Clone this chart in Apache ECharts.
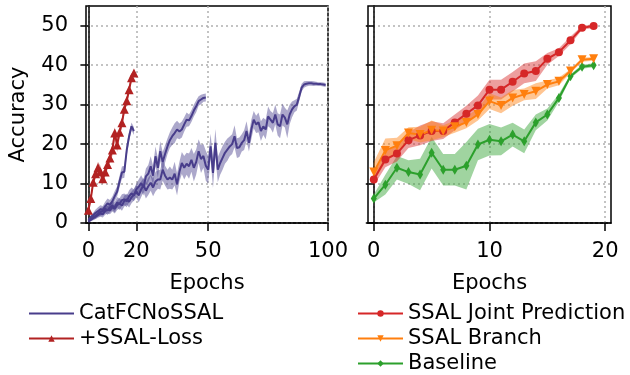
<!DOCTYPE html>
<html>
<head>
<meta charset="utf-8">
<script src="https://cdn.jsdelivr.net/npm/echarts@6/dist/echarts.min.js"></script>
<style>
  html, body { margin: 0; padding: 0; background: #fff; }
  #chart { width: 630px; height: 375px; }
</style>
</head>
<body>
<div id="chart"></div>
<script>
// tick values
const yTicks = [0, 10, 20, 30, 40, 50];
const leftXTicks = [0, 20, 50, 100];
const rightXTicks = [0, 10, 20];

// left panel: CatFCNoSSAL runs (20 / 50 / 100 epochs)
const noSsal20 = [0.8, 1.5, 2.0, 2.6, 3.0, 3.5, 3.3, 4.2, 5.0, 4.6, 5.5, 6.8, 8.0, 10.5, 12.8, 13.0, 18.5, 22.0, 24.5, 23.3];
const noSsal20Std = [0.3, 0.5, 0.6, 0.8, 1, 1, 1, 1.2, 1.2, 1.2, 1.2, 1.3, 1.3, 1.5, 1.5, 1.5, 1.5, 1.2, 1, 1];

const noSsal50 = [
  0.5, 1.0, 1.5, 1.8, 2.4, 2.8, 3.0, 3.6, 3.2, 4.0,
  4.4, 4.0, 5.2, 4.8, 5.8, 6.0, 5.5, 6.8, 7.5, 7.0,
  8.5, 9.2, 10.1, 9.0, 11.8, 12.5, 14.4, 12.0, 16.9, 14.0,
  18.2, 15.5, 17.5, 19.4, 21.0, 22.0, 22.8, 23.7, 23.2, 23.7,
  25.0, 26.2, 26.0, 27.1, 28.5, 29.6, 30.9, 31.3, 31.7, 31.8];
const noSsal50Std = [
  0.3, 0.5, 0.6, 0.8, 0.8, 1, 1, 1, 1.2, 1.2,
  1.2, 1.3, 1.3, 1.5, 1.5, 1.5, 1.5, 1.5, 1.5, 1.5,
  1.5, 1.8, 2, 2, 2, 2.2, 2.5, 2.5, 2.5, 2.5,
  2.5, 2.5, 2.2, 2, 2, 2.2, 2.5, 2.2, 2, 2,
  1.8, 1.8, 1.5, 1.5, 1.5, 1.5, 1.2, 1.2, 1, 1];

const noSsal100 = [
  0.3, 0.8, 1.2, 1.6, 2.0, 2.4, 2.2, 3.0, 3.4, 3.2,
  4.0, 3.6, 4.5, 5.0, 4.4, 5.6, 6.0, 5.4, 6.5, 7.2,
  8.0, 7.0, 8.5, 9.6, 8.2, 9.3, 10.2, 9.0, 10.5, 11.0,
  11.0, 13.5, 12.0, 11.0, 11.5, 11.0, 12.5, 9.8, 13.0, 15.2,
  14.0, 15.0, 14.4, 16.0, 14.0, 15.5, 18.2, 16.2, 17.0, 14.5,
  13.5, 19.4, 12.7, 20.3, 13.5, 15.2, 16.5, 17.8, 18.6, 19.4,
  20.0, 22.0, 19.0, 19.2, 20.3, 21.0, 23.3, 20.3, 23.7, 26.2,
  25.0, 25.5, 23.3, 24.5, 23.7, 27.0, 26.2, 25.4, 27.5, 25.0,
  24.5, 27.5, 26.7, 25.0, 27.5, 28.8, 29.6, 30.0, 32.1, 34.3,
  35.1, 35.3, 35.4, 35.4, 35.3, 35.3, 35.2, 35.2, 35.1, 35.0];
const noSsal100Std = [
  0.3, 0.4, 0.5, 0.6, 0.7, 0.8, 0.8, 0.9, 1, 1,
  1.1, 1.2, 1.2, 1.3, 1.3, 1.4, 1.4, 1.5, 1.5, 1.5,
  1.6, 1.8, 2, 1.8, 2, 2.2, 2, 2.2, 2.5, 2.3,
  2.5, 2.8, 2.5, 2.5, 2.8, 2.5, 3, 2.8, 2.5, 2.8,
  3, 2.8, 3.2, 3, 3.5, 3.2, 3, 3.5, 3, 3.8,
  3.5, 3.2, 3.8, 3.5, 3.2, 3, 3, 2.8, 2.8, 2.5,
  2.5, 2.8, 2.5, 2.5, 2.2, 2.5, 2.5, 2.2, 2.5, 2.2,
  2.2, 2.5, 2.5, 2.2, 2.5, 2.5, 2.2, 2.5, 2.5, 2.8,
  3, 2.8, 2.5, 3.5, 2.5, 2, 1.5, 1.5, 1.2, 1,
  0.8, 0.7, 0.6, 0.6, 0.6, 0.5, 0.5, 0.5, 0.5, 0.5];

const ssalLoss = [3.2, 6.2, 10.3, 12.5, 14.0, 13.0, 11.2, 12.9, 14.8, 16.5, 18.5, 22.8, 19.8, 23.0, 25.4, 28.8, 31.0, 33.8, 36.8, 38.0];
const ssalLossStd = [0.5, 0.8, 1, 1.2, 1.5, 1.5, 1.5, 1.2, 1.2, 1.2, 1.5, 1.5, 1.8, 1.5, 1.2, 1.2, 1, 1, 1, 0.8];

// right panel
const jointPred = [11.0, 16.1, 17.6, 21.0, 22.2, 23.3, 23.3, 25.5, 27.7, 29.8, 33.8, 33.8, 35.8, 37.9, 38.5, 41.6, 43.3, 46.3, 49.5, 49.9];
const jointPredStd = [1.5, 2, 2, 2, 2.5, 2.5, 2, 2, 2, 2.5, 2.5, 2.5, 2.5, 2.5, 2.5, 1.5, 1, 1, 0.5, 0.5];
const branch = [12.9, 18.4, 19.6, 22.8, 22.4, 23.5, 23.3, 24.4, 25.5, 27.5, 30.9, 29.8, 31.7, 32.6, 33.4, 35.1, 35.9, 38.5, 41.4, 41.6];
const branchStd = [2.5, 3, 2, 1.5, 2, 2.5, 1.5, 1.5, 1.5, 1.5, 2, 2, 2, 1.5, 2, 1, 1, 0.5, 0.5, 0.5];
const baseline = [6.2, 9.7, 14.0, 12.9, 12.3, 17.8, 13.5, 13.5, 14.5, 19.9, 21.1, 20.7, 22.4, 20.7, 25.5, 27.5, 31.7, 37.2, 39.6, 40.0];
const baselineStd = [1, 2.5, 3, 3, 4, 4, 4, 4, 6, 4, 4, 3.5, 3, 3, 2, 1.5, 1, 0.5, 0.5, 0.5];

const FONT = "DejaVu Sans";
const PURPLE = "#483D8B";
const FIREBRICK = "#B22222";

// shaded +-std band drawn through the axis scales
function band(values, std, color, panel) {
  return {
    type: "custom", xAxisIndex: panel, yAxisIndex: panel, silent: true, clip: true,
    data: [0],
    renderItem(params, api) {
      const upper = values.map((v, i) => api.coord([i, v + std[i]]));
      const lower = values.map((v, i) => api.coord([i, v - std[i]])).reverse();
      return { type: "polygon", shape: { points: upper.concat(lower) }, style: { fill: color, opacity: 0.45 } };
    },
  };
}

function curve(name, values, std, color, panel, sym) {
  const line = {
    type: "line", name, xAxisIndex: panel, yAxisIndex: panel,
    data: values.map((v, i) => [i, v]),
    showSymbol: !!sym, symbol: sym ? sym.symbol : "none",
    symbolSize: sym ? sym.size : 0, symbolRotate: sym ? sym.rotate || 0 : 0,
    lineStyle: { color, width: 2 }, itemStyle: { color },
    emphasis: { disabled: true },
  };
  return [band(values, std, color, panel), line];
}

function xAxisFor(panel, min, max, ticks) {
  return {
    type: "value", gridIndex: panel, min, max,
    name: "Epochs", nameLocation: "middle", nameGap: 50,
    nameTextStyle: { fontFamily: FONT, fontSize: 21, color: "#000" },
    axisLine: { show: true, onZero: false, lineStyle: { color: "#000", width: 1.5 } },
    axisTick: { show: true, length: 8, customValues: ticks, lineStyle: { color: "#000", width: 1.5 } },
    axisLabel: { customValues: ticks, margin: 18, fontFamily: FONT, fontSize: 21, color: "#000" },
    splitLine: { show: true, lineStyle: { color: "#b0b0b0", type: [2, 3], width: 1.5 } },
  };
}

function yAxisFor(panel, labels) {
  return {
    type: "value", gridIndex: panel, min: 0, max: 55,
    name: labels ? "Accuracy" : "", nameLocation: "middle", nameGap: 57,
    nameTextStyle: { fontFamily: FONT, fontSize: 21, color: "#000" },
    axisLine: { show: true, lineStyle: { color: "#000", width: 1.5 } },
    axisTick: { show: true, length: 8, customValues: yTicks, lineStyle: { color: "#000", width: 1.5 } },
    axisLabel: { show: labels, customValues: yTicks, margin: 18, fontFamily: FONT, fontSize: 21, color: "#000" },
    splitLine: { show: true, lineStyle: { color: "#b0b0b0", type: [2, 3], width: 1.5 } },
  };
}

const chart = echarts.init(document.getElementById("chart"), null, { renderer: "canvas" });

const series = [].concat(
  curve("CatFCNoSSAL", noSsal100, noSsal100Std, PURPLE, 0),
  curve("CatFCNoSSAL", noSsal50, noSsal50Std, PURPLE, 0),
  curve("CatFCNoSSAL", noSsal20, noSsal20Std, PURPLE, 0),
  curve("+SSAL-Loss", ssalLoss, ssalLossStd, FIREBRICK, 0, { symbol: "triangle", size: 9 }),
  curve("Baseline", baseline, baselineStd, "#2ca02c", 1, { symbol: "diamond", size: [6, 10] }),
  curve("SSAL Joint Prediction", jointPred, jointPredStd, "#d62728", 1, { symbol: "circle", size: 8 }),
  curve("SSAL Branch", branch, branchStd, "#ff7f0e", 1, { symbol: "triangle", size: 9, rotate: 180 })
);

const legendBase = {
  orient: "vertical", itemWidth: 45, itemHeight: 8, itemGap: 4, height: 90, padding: 0,
  textStyle: { fontFamily: FONT, fontSize: 21, color: "#000", lineHeight: 21 },
  selectedMode: false,
};

chart.setOption({
  animation: false,
  backgroundColor: "#fff",
  grid: [
    { left: 86, top: 6, width: 242, height: 217, show: true, borderColor: "#000", borderWidth: 1.5, backgroundColor: "transparent" },
    { left: 368, top: 6, width: 243, height: 217, show: true, borderColor: "#000", borderWidth: 1.5, backgroundColor: "transparent" },
  ],
  xAxis: [xAxisFor(0, -1, 100, leftXTicks), xAxisFor(1, -0.5, 20.5, rightXTicks)],
  yAxis: [yAxisFor(0, true), yAxisFor(1, false)],
  legend: [
    Object.assign({}, legendBase, {
      data: [{ name: "CatFCNoSSAL", itemStyle: { opacity: 0 } }, "+SSAL-Loss"], left: 28, top: 303,
    }),
    Object.assign({}, legendBase, {
      data: ["SSAL Joint Prediction", "SSAL Branch", "Baseline"], left: 357, top: 303,
    }),
  ],
  series,
});
</script>
</body>
</html>
